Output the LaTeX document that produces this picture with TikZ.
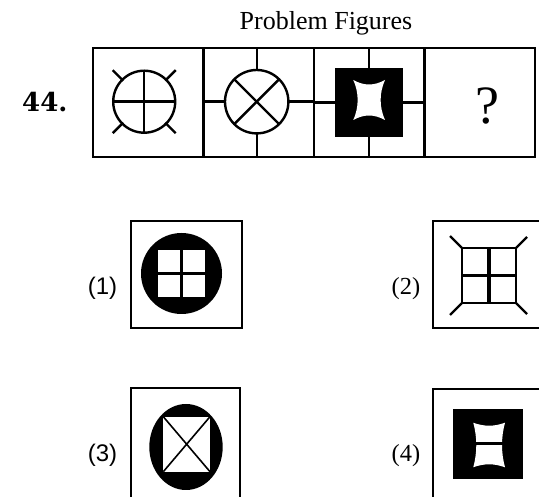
\documentclass[tikz,border=0pt]{standalone}
\usepackage{fontspec}
\newfontfamily\tnr{Liberation Serif}
\newfontfamily\arl{Liberation Sans}
\newfontfamily\slab{DejaVu Serif}
\begin{document}
\begin{tikzpicture}[x=1pt,y=-1pt,line join=miter,
  frame/.style={line width=2.8pt},
  fig/.style={line width=2.4pt},
  serifl/.style={font=\tnr\fontsize{24.5}{28}\selectfont,anchor=base},
  sansl/.style={font=\arl\fontsize{24}{28}\selectfont,anchor=base}]
\useasboundingbox (0,0) rectangle (539,497);
\clip (0,0) rectangle (539,497);
% title and number
\node[font=\tnr\fontsize{26}{30}\selectfont,anchor=base] (title) at (326,29.3) {Problem Figures};
\node[font=\slab\bfseries\fontsize{26}{30}\selectfont,anchor=base east] (num) at (71,111.7) {44.};
% problem strip
\draw[frame] (93,48) rectangle (535,157);
\draw[frame] (203.5,48) -- (203.5,157) (314,48) -- (314,157) (424.5,48) -- (424.5,157);
% cell 1
\coordinate (c1) at (144.2,101.7);
\draw[fig] (c1) circle (31pt);
\draw[fig] (c1) ++(-31,0) -- ++(62,0);
\draw[fig] (c1) ++(0,-31) -- ++(0,62);
\draw[fig] (c1) ++(-21,-21) -- ++(-10.5,-10.5);
\draw[fig] (c1) ++(21,-21) -- ++(10.5,-10.5);
\draw[fig] (c1) ++(-21,21) -- ++(-10.5,10.5);
\draw[fig] (c1) ++(21,21) -- ++(10.5,10.5);
% cell 2
\coordinate (c2) at (256.7,101.7);
\draw[fig] (c2) circle (31.7pt);
\draw[fig] (c2) ++(-22.4,-22.4) -- ++(44.8,44.8);
\draw[fig] (c2) ++(22.4,-22.4) -- ++(-44.8,44.8);
\draw[fig] (203.5,101.7) -- (225,101.7) (288.4,101.7) -- (314,101.7);
\draw[fig] (256.7,48) -- (256.7,70) (256.7,133.4) -- (256.7,157);
% cell 3
\fill (335,68) rectangle (403,137);
\draw[fig] (369,48) -- (369,68) (369,137) -- (369,157);
\draw[fig] (314,102.6) -- (335,102.6) (403,102.6) -- (424.5,102.6);
\fill[white] (353.3,80) .. controls (364,86) and (374,86) .. (385,80)
  .. controls (379.2,93) and (379.2,107) .. (385,120)
  .. controls (374,114) and (364,114) .. (353.3,120)
  .. controls (359.1,107) and (359.1,93) .. cycle;
% cell 4
\node[font=\tnr\fontsize{54}{60}\selectfont,anchor=base] (q) at (487,123.3) {?};
% answer 1
\node[serifl] (l2) at (406,294.5) {(2)};
\node[sansl] (l1) at (102.5,295) {(1)};
\draw[frame] (131,221) rectangle (242,328);
\fill (181.5,273.5) circle (40.5pt);
\fill[white] (158,250) rectangle (205,297);
\draw[line width=3pt] (181.5,250) -- (181.5,297) (158,273.5) -- (205,273.5);
% answer 2
\draw[frame] (433,221) rectangle (580,328);
\draw[fig] (462,248) rectangle (516,303);
\draw[line width=3.2pt] (489,248) -- (489,303) (462,275.5) -- (516,275.5);
\draw[fig] (462,248) -- ++(-12,-12) (516,248) -- ++(11,-11)
  (462,303) -- ++(-12,12) (516,303) -- ++(11,11);
% answer 3
\node[sansl] (l3) at (102.5,462) {(3)};
\draw[frame] (131,388) rectangle (240,540);
\fill (186,447) ellipse [x radius=36.7pt, y radius=43pt];
\fill[white] (163.3,416.7) rectangle (210,471.7);
\draw[line width=1.6pt] (163.3,416.7) -- (210,471.7) (210,416.7) -- (163.3,471.7);
% answer 4
\node[serifl] (l4) at (406,462) {(4)};
\draw[frame] (433,389) rectangle (580,540);
\fill (453,409) rectangle (523,479);
\fill[white] (473.3,422.7) .. controls (484,426.7) and (494,426.7) .. (505,422.7)
  .. controls (501,437.5) and (501,452.5) .. (505,467.3)
  .. controls (494,463.3) and (484,463.3) .. (473.3,467.3)
  .. controls (477.3,452.5) and (477.3,437.5) .. cycle;
\draw[line width=3pt] (472,443.5) -- (506,443.5);
\end{tikzpicture}
\end{document}
